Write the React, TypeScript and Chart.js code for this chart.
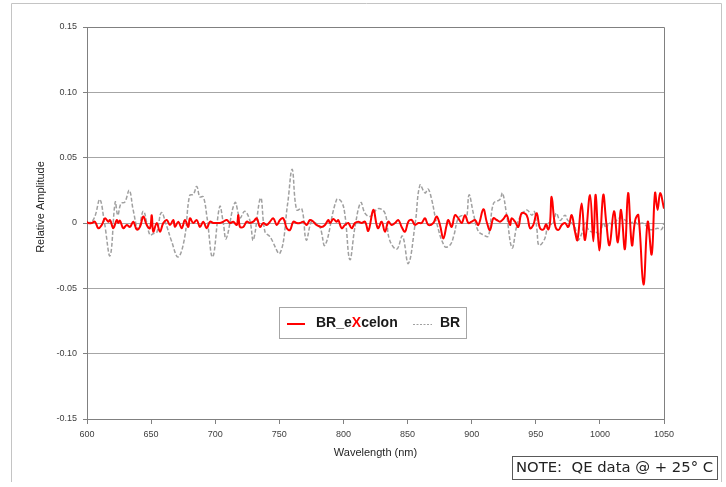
import React, { useEffect, useRef } from 'react';
import { Chart, registerables } from 'chart.js';

Chart.register(...registerables);

// BR_eXcelon (red) series
const excelonWavelength = [
  600, 601, 603.7, 606.2, 608.8, 611.5, 614, 616.6, 618, 620.5, 623.2, 624.4, 625.7, 628.3, 631, 633.5,
  636.1, 638.8, 641.3, 643.9, 646.6, 649.1, 650.5, 651.7, 654.4, 656.9, 659.5, 662.2, 664.7, 667.3, 668.6,
  671.2, 673.9, 676.4, 679, 680.3, 682.9, 685.6, 688.1, 690.7, 693.4, 695.9, 698.5, 701.2, 703.7, 706.3,
  709, 711.5, 714.1, 716.8, 718, 719.3, 721.9, 724.6, 727.1, 729.7, 732.4, 734.9, 737.5, 740.2, 742.7,
  745.3, 748, 750.5, 753.1, 755.8, 758.3, 760.9, 763.5, 766.1, 768.7, 771.3, 773.9, 776.5, 779.1, 783,
  785.6, 788.2, 789.5, 792.1, 794.7, 796, 798.6, 801.2, 803.8, 806.4, 809, 811.6, 814.2, 816.8, 819.4,
  823.3, 825.9, 827.2, 829.8, 832.4, 835, 837.6, 840.2, 842.8, 845.4, 848, 850.6, 853.2, 855.8, 858.4,
  861, 863.6, 866.2, 870.1, 872.7, 875.3, 877.9, 880.5, 881.8, 884.4, 887, 889.6, 892.2, 894.8, 897.4,
  900, 902.6, 905.2, 909.1, 911.7, 914.3, 916.9, 919.5, 922.1, 924.7, 927.3, 929.9, 931.2, 933.8, 936.4,
  939, 942.9, 945.5, 948.1, 950.7, 953.3, 956, 958, 959.8, 961.1, 962.4, 965, 967.6, 970.2, 972.8, 975.4,
  978, 980.6, 982.5, 985.8, 988.4, 992.3, 994.9, 996.7, 999.5, 1002.6, 1005, 1007.5, 1011, 1014, 1016.5,
  1019.5, 1022, 1025, 1027.5, 1030, 1034, 1037.3, 1040.4, 1043, 1045, 1047, 1050,
];
const excelonAmplitude = [
  0.001, 0.0, 0.0, 0.001, -0.004, -0.0015, 0.0036, 0.001, 0.0023, -0.004, 0.0023, 0.0, 0.0018, -0.004, -0.0015, -0.003,
  0.001, -0.005, -0.003, 0.005, -0.0015, -0.004, 0.006, -0.0067, 0.0, -0.0067, 0.0, 0.0023, -0.0015, 0.0023, -0.003,
  0.001, -0.004, 0.0023, -0.003, 0.0036, 0.0, 0.0023, -0.003, 0.001, -0.004, 0.001, 0.0, 0.0, 0.0, 0.001,
  0.0023, 0.0, 0.001, -0.0015, 0.006, -0.003, -0.003, 0.001, 0.0, 0.001, 0.0036, -0.003, 0.0, -0.0015, 0.001,
  0.0036, -0.0015, 0.0023, 0.0036, -0.004, -0.0054, 0.001, 0.0, 0.0, 0.001, -0.0015, 0.0023, 0.001, -0.0015, -0.003,
  -0.0015, 0.0023, 0.0, 0.003, 0.001, 0.0023, -0.004, -0.0015, 0.0, -0.004, 0.0, 0.001, 0.0, 0.001, -0.006,
  0.01, -0.0015, -0.004, 0.001, -0.0067, 0.001, -0.0015, 0.0, 0.0023, -0.003, -0.0067, 0.001, 0.0023, -0.0015, 0.0,
  0.0, 0.0036, -0.0015, 0.0, 0.005, -0.0015, -0.0118, -0.0015, 0.0023, -0.003, 0.006, 0.0036, 0.0, 0.006, 0.0,
  0.001, 0.0023, -0.0015, 0.0105, 0.001, -0.0054, 0.0036, 0.0023, 0.001, 0.003, 0.006, -0.0015, 0.0036, 0.001, -0.003,
  0.0075, 0.006, -0.004, -0.0015, 0.0075, -0.004, -0.005, -0.001, -0.005, 0.0, 0.02, -0.0015, -0.0054, -0.0015, 0.0, -0.003,
  0.006, -0.0067, -0.013, 0.015, -0.013, 0.0215, -0.014, 0.0215, -0.021, 0.0215, 0.0, -0.017, 0.009, -0.015, 0.01,
  -0.02, 0.023, -0.017, 0.002, 0.006, -0.047, 0.001, -0.024, 0.023, 0.01, 0.023, 0.011,
];

// BR (grey dashed) series
const brWavelength = [
  600, 603.7, 606.5, 610, 613.5, 618, 622, 624, 626.5, 629.5, 633, 636, 640, 644, 649, 652, 654.5, 658, 662,
  666, 671, 676, 680, 683, 685.6, 688, 690.7, 693.5, 698, 703.5, 706.3, 708.5, 715.4, 719.3, 723, 727, 729.7,
  735.4, 738.8, 742.7, 750.5, 756.5, 760, 763.5, 767.5, 771, 775, 778, 781.7, 785.6, 794.7, 798.6, 801.2, 805,
  809, 813.5, 816.8, 821, 827, 832.4, 836, 841.6, 846, 850.6, 856, 859.7, 863.6, 866, 868.8, 872.7, 879, 883,
  886, 889.6, 894, 896, 898, 901.3, 905, 909, 913, 917, 922, 924, 927, 931.5, 935, 937.7, 943, 947, 949, 951,
  952.5, 957, 959.8, 963, 966, 969, 972.8, 975, 978, 980.5, 983, 985.5, 988.5, 991, 994, 997, 1000, 1002.5,
  1005, 1007, 1010, 1013, 1016, 1020, 1023, 1027, 1030, 1033, 1036, 1039, 1042, 1045, 1048, 1050,
];
const brAmplitude = [
  0.0, 0.001, 0.006, 0.018, 0.001, -0.025, 0.016, 0.006, 0.015, 0.016, 0.025, 0.01, -0.005, 0.009, -0.009, -0.008, -0.007, 0.008, -0.002,
  -0.014, -0.026, -0.012, 0.021, 0.022, 0.028, 0.02, 0.02, 0.005, -0.026, 0.0125, 0.0, -0.012, 0.0156, 0.004, 0.009, 0.002, -0.013,
  0.019, -0.0067, -0.0105, -0.023, 0.015, 0.041, 0.01, 0.011, -0.013, 0.001, 0.0, -0.003, -0.017, 0.018, 0.016, 0.006, -0.028,
  -0.003, 0.0156, 0.0075, 0.005, 0.011, 0.0075, -0.013, -0.02, -0.01, -0.031, 0.0, 0.029, 0.023, 0.026, 0.018, 0.0, -0.018, -0.017,
  -0.01, 0.0036, 0.006, 0.004, 0.0215, 0.0075, -0.006, -0.009, -0.01, 0.015, 0.018, 0.023, 0.008, -0.019, -0.003, 0.0044, 0.01, 0.006, 0.0087, -0.006,
  -0.017, -0.012, 0.0, -0.001, 0.0075, 0.002, 0.006, 0.002, 0.0, -0.003, -0.013, -0.009, 0.0, -0.005, -0.007, -0.007, -0.009, 0.0,
  -0.004, 0.0, -0.001, 0.002, 0.004, 0.002, 0.0, 0.001, -0.001, 0.0, -0.002, -0.005, -0.005, -0.004, -0.005, 0.0,
];

const seriesNames = ['BR_eXcelon', 'BR'];
const xAxisTitle = 'Wavelength (nm)';
const yAxisTitle = 'Relative Amplitude';
const noteText = 'NOTE:  QE data @ + 25\u00B0 C';

const FONT = '"Liberation Sans", Arial, sans-serif';

export default function App() {
  const ref = useRef<HTMLCanvasElement>(null);

  useEffect(() => {
    document.body.style.margin = '0';
    const canvas = ref.current;
    if (!canvas) return;

    const extras = {
      id: 'extras',
      afterDraw(chart: any) {
        const ctx = chart.ctx as CanvasRenderingContext2D;
        const a = chart.chartArea;
        ctx.save();

        // outer frame
        ctx.strokeStyle = '#c4c4c4';
        ctx.lineWidth = 1;
        ctx.beginPath();
        ctx.moveTo(11.5, 482);
        ctx.lineTo(11.5, 3.5);
        ctx.lineTo(721.5, 3.5);
        ctx.lineTo(721.5, 482);
        ctx.stroke();

        // plot area frame (top + right)
        ctx.strokeStyle = '#808080';
        ctx.beginPath();
        ctx.moveTo(Math.round(a.left) + 0.5, Math.round(a.top) + 0.5);
        ctx.lineTo(Math.round(a.right) + 0.5, Math.round(a.top) + 0.5);
        ctx.lineTo(Math.round(a.right) + 0.5, Math.round(a.bottom) + 0.5);
        ctx.stroke();

        // y axis title
        ctx.save();
        ctx.translate(41, 207);
        ctx.rotate(-Math.PI / 2);
        ctx.font = `11px ${FONT}`;
        ctx.fillStyle = '#262626';
        ctx.textAlign = 'center';
        ctx.textBaseline = 'middle';
        ctx.fillText(yAxisTitle, 0, 0);
        ctx.restore();

        // legend
        const lx = 279.5, ly = 307.5, lw = 187, lh = 31;
        ctx.fillStyle = '#ffffff';
        ctx.fillRect(lx, ly, lw, lh);
        ctx.strokeStyle = '#a6a6a6';
        ctx.lineWidth = 1;
        ctx.strokeRect(lx, ly, lw, lh);
        const midY = ly + lh / 2 + 1;
        ctx.strokeStyle = '#ff0000';
        ctx.lineWidth = 2;
        ctx.beginPath();
        ctx.moveTo(287, midY);
        ctx.lineTo(305, midY);
        ctx.stroke();
        ctx.font = `bold 14px ${FONT}`;
        ctx.textBaseline = 'middle';
        ctx.textAlign = 'left';
        const name = seriesNames[0];
        const iX = name.indexOf('X');
        const parts = [name.slice(0, iX), name.slice(iX, iX + 1), name.slice(iX + 1)];
        let tx = 316;
        const ty = midY - 1;
        parts.forEach((p, i) => {
          ctx.fillStyle = i === 1 ? '#ff0000' : '#1a1a1a';
          ctx.fillText(p, tx, ty);
          tx += ctx.measureText(p).width;
        });
        ctx.strokeStyle = '#a0a0a0';
        ctx.lineWidth = 1;
        ctx.setLineDash([2, 1.5]);
        ctx.beginPath();
        ctx.moveTo(413, midY + 0.5);
        ctx.lineTo(432, midY + 0.5);
        ctx.stroke();
        ctx.setLineDash([]);
        ctx.fillStyle = '#1a1a1a';
        ctx.fillText(seriesNames[1], 440, ty);

        // note box
        ctx.fillStyle = '#ffffff';
        ctx.fillRect(512.5, 456.5, 205, 23);
        ctx.strokeStyle = '#595959';
        ctx.strokeRect(512.5, 456.5, 205, 23);
        ctx.font = '14.8px "DejaVu Sans", sans-serif';
        ctx.fillStyle = '#222222';
        ctx.textBaseline = 'middle';
        ctx.fillText(noteText, 516, 468.5);

        ctx.restore();
      },
    };

    const chart = new Chart(canvas, {
      type: 'line',
      data: {
        datasets: [
          {
            label: seriesNames[0],
            data: excelonWavelength.map((x, i) => ({ x, y: excelonAmplitude[i] })),
            borderColor: '#ff0000',
            borderWidth: 2,
            pointRadius: 0,
            tension: 0.4,
            fill: false,
          },
          {
            label: seriesNames[1],
            data: brWavelength.map((x, i) => ({ x, y: brAmplitude[i] })),
            borderColor: '#a0a0a0',
            borderWidth: 1.5,
            borderDash: [4, 2],
            pointRadius: 0,
            tension: 0.4,
            fill: false,
          },
        ],
      },
      options: {
        animation: false,
        responsive: false,
        devicePixelRatio: 1,
        layout: { padding: { left: 34, top: 27, right: 62, bottom: 27 } },
        plugins: {
          legend: { display: false },
          tooltip: { enabled: false },
        },
        scales: {
          x: {
            type: 'linear',
            min: 600,
            max: 1050,
            ticks: {
              stepSize: 50,
              autoSkip: false,
              maxRotation: 0,
              padding: 5,
              color: '#404040',
              font: { family: FONT, size: 9 },
              callback: (v: any) => String(Math.round(Number(v))),
            },
            grid: {
              drawOnChartArea: false,
              drawTicks: true,
              tickLength: 5,
              tickColor: '#808080',
            },
            border: { color: '#808080', width: 1 },
            title: {
              display: true,
              text: xAxisTitle,
              color: '#262626',
              font: { family: FONT, size: 11 },
              padding: 0,
            },
            afterFit: (s: any) => {
              s.height = 41;
            },
          },
          y: {
            type: 'linear',
            min: -0.15,
            max: 0.15,
            ticks: {
              stepSize: 0.05,
              padding: 6,
              color: '#404040',
              font: { family: FONT, size: 9 },
              callback: (v: any) => (Math.abs(Number(v)) < 1e-9 ? '0' : Number(v).toFixed(2)),
            },
            grid: {
              color: '#a6a6a6',
              tickColor: '#808080',
              tickLength: 4,
            },
            border: { color: '#808080', width: 1 },
            afterFit: (s: any) => {
              s.width = 53;
            },
          },
        },
      },
      plugins: [extras],
    });

    return () => chart.destroy();
  }, []);

  return <canvas ref={ref} width={726} height={487} style={{ display: 'block' }} />;
}
